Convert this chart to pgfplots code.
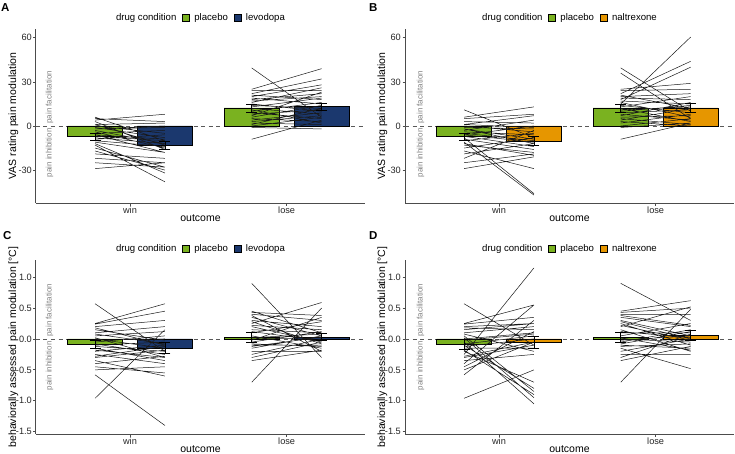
\documentclass[border=0pt]{standalone}
\usepackage{fontspec}
\setmainfont{Liberation Sans}
\usepackage{pgfplots}
\pgfplotsset{compat=1.18}
\definecolor{plgreen}{RGB}{122,178,32}
\definecolor{lvblue}{RGB}{27,56,110}
\definecolor{nxorange}{RGB}{230,150,0}
\newcommand\tickfont{\fontsize{9.2}{11}\selectfont}
\newcommand\labfont{\fontsize{10.5}{12.6}\selectfont}
\newcommand\legfont{\fontsize{9.6}{11.5}\selectfont}
\newcommand\annfont{\fontsize{8}{9.6}\selectfont}
\newcommand\letfont{\bfseries\fontsize{11.5}{13}\selectfont}
\tikzset{annot/.style={rotate=90, font=\annfont, text=black!50, inner sep=0pt}}
\pgfplotsset{
  sqkey/.style={legend image code/.code={\draw[fill=#1,draw=black,line width=0.5pt] (0pt,-3.3pt) rectangle (6.6pt,3.3pt); \path (9.5pt,0pt);}},
  panel/.style={
    scale only axis, width=329pt, height=174pt, anchor=north west,
    xmin=0.4, xmax=2.5,
    axis x line*=bottom, axis y line*=left,
    axis line style={black!70, line width=1pt},
    tick align=outside, major tick length=2.5pt,
    tick style={black!70, line width=0.8pt},
    xtick={1,2}, xticklabels={win,lose},
    /pgf/number format/assume math mode=true,
    ticklabel style={font=\tickfont, text=black!85},
    xticklabel style={inner sep=1.5pt},
    yticklabel style={inner sep=1.5pt},
    xlabel={outcome},
    label style={font=\labfont},
    xlabel style={at={(axis description cs:0.5,-0.086)}, anchor=center},
    ylabel style={at={(axis description cs:-0.0684,0.5)}, anchor=center},
    legend style={at={(axis description cs:0.5,1.0632)}, anchor=center, draw=none, fill=none,
      legend columns=-1, font=\legfont, /tikz/every even column/.append style={column sep=4pt}},
    clip=false,
  },
  vas/.style={ymin=-52.4, ymax=66, ytick={-30,0,30,60}, ylabel={VAS rating pain modulation}},
  beh/.style={ymin=-1.538, ymax=1.278, ytick={-1.5,-1,-0.5,0,0.5,1},
    yticklabel style={/pgf/number format/.cd, fixed, fixed zerofill, precision=1},
    ylabel={behaviorally assessed pain modulation [°C]}},
  zeroline/.style={black!65, line width=0.6pt, dash pattern=on 4pt off 3.5pt, forget plot},
  bars/.style={ybar, bar width=0.351, bar shift=0pt, draw=black, line width=0.6pt, fill=#1, forget plot},
  subj/.style={black!90, line width=0.5pt, unbounded coords=jump, forget plot, mark=none},
  errs/.style={draw=none, mark=none, forget plot, error bars/.cd, y dir=both, y explicit,
    error bar style={draw=black, line width=0.65pt, solid},
    error mark options={draw=black, rotate=90, mark size=5.5pt, line width=0.65pt}},
}
\begin{document}
\begin{tikzpicture}
\path[use as bounding box] (0,0) rectangle (735pt,-453pt);
\node[anchor=north west, inner sep=0pt, font=\letfont] at (1pt,-3pt) {A};
\node[anchor=north west, inner sep=0pt, font=\letfont] at (369pt,-3pt) {B};
\node[anchor=north west, inner sep=0pt, font=\letfont] at (3pt,-231pt) {C};
\node[anchor=north west, inner sep=0pt, font=\letfont] at (369pt,-231pt) {D};

% ---------------- A ----------------
\begin{axis}[panel, vas, at={(36pt,-29pt)}]
\addlegendimage{empty legend}\addlegendentry{drug condition}
\addlegendimage{sqkey=plgreen}\addlegendentry{placebo}
\addlegendimage{sqkey=lvblue}\addlegendentry{levodopa}
\addplot[zeroline] coordinates {(0.4,0) (2.5,0)};
\addplot[bars=plgreen] coordinates {(0.777,-7.3) (1.777,12.3)};
\addplot[bars=lvblue] coordinates {(1.223,-13.2) (2.223,13.2)};
\addplot[subj] coordinates {
(0.777,6) (1.223,-10) (nan,nan) (0.777,4) (1.223,8) (nan,nan) (0.777,5) (1.223,3) (nan,nan)
(0.777,3) (1.223,-16) (nan,nan) (0.777,1) (1.223,2) (nan,nan) (0.777,0) (1.223,-5) (nan,nan)
(0.777,-1) (1.223,-8) (nan,nan) (0.777,-2) (1.223,0) (nan,nan) (0.777,-3) (1.223,-12) (nan,nan)
(0.777,-4) (1.223,-15) (nan,nan) (0.777,-5) (1.223,-3) (nan,nan) (0.777,-6) (1.223,-18) (nan,nan)
(0.777,-7) (1.223,-10) (nan,nan) (0.777,-8) (1.223,-12) (nan,nan) (0.777,-9) (1.223,-6) (nan,nan)
(0.777,-10) (1.223,-14) (nan,nan) (0.777,-11) (1.223,-18) (nan,nan) (0.777,-12) (1.223,-32) (nan,nan)
(0.777,-13) (1.223,-38) (nan,nan) (0.777,-15) (1.223,-28) (nan,nan) (0.777,-17) (1.223,-30) (nan,nan)
(0.777,-19) (1.223,-22) (nan,nan) (0.777,-22) (1.223,-25) (nan,nan) (0.777,-25) (1.223,-28) (nan,nan)
(0.777,-29) (1.223,-25) (nan,nan) (0.777,-2) (1.223,-1) (nan,nan) (0.777,-6) (1.223,-9) (nan,nan)
(0.777,1) (1.223,-13) (nan,nan)
(1.777,39.5) (2.223,6) (nan,nan) (1.777,25) (2.223,39) (nan,nan) (1.777,22) (2.223,32) (nan,nan)
(1.777,20) (2.223,28) (nan,nan) (1.777,24) (2.223,24) (nan,nan) (1.777,18) (2.223,22) (nan,nan)
(1.777,16) (2.223,26) (nan,nan) (1.777,21) (2.223,18) (nan,nan) (1.777,19) (2.223,15) (nan,nan)
(1.777,17) (2.223,20) (nan,nan) (1.777,14) (2.223,12) (nan,nan) (1.777,13) (2.223,19) (nan,nan)
(1.777,12) (2.223,8) (nan,nan) (1.777,10) (2.223,16) (nan,nan) (1.777,9) (2.223,5) (nan,nan)
(1.777,8) (2.223,11) (nan,nan) (1.777,6) (2.223,14) (nan,nan) (1.777,5) (2.223,3) (nan,nan)
(1.777,4) (2.223,9) (nan,nan) (1.777,3) (2.223,7) (nan,nan) (1.777,2) (2.223,1) (nan,nan)
(1.777,0) (2.223,6) (nan,nan) (1.777,-1) (2.223,-2) (nan,nan) (1.777,-9) (2.223,4) (nan,nan)
(1.777,15) (2.223,10) (nan,nan) (1.777,11) (2.223,2) (nan,nan) (1.777,7) (2.223,23) (nan,nan)
(1.777,1) (2.223,12)
};
\addplot[errs] coordinates {(0.777,-7.3) +- (0,2.5) (1.223,-13.2) +- (0,2.7) (1.777,12.3) +- (0,2.7) (2.223,13.2) +- (0,2.5)};
\node[annot, anchor=west] at (axis cs:0.487,1.5) {pain facilitation};
\node[annot, anchor=east] at (axis cs:0.487,-1.5) {pain inhibition};
\end{axis}

% ---------------- B ----------------
\begin{axis}[panel, vas, at={(405pt,-29pt)}]
\addlegendimage{empty legend}\addlegendentry{drug condition}
\addlegendimage{sqkey=plgreen}\addlegendentry{placebo}
\addlegendimage{sqkey=nxorange}\addlegendentry{naltrexone}
\addplot[zeroline] coordinates {(0.4,0) (2.5,0)};
\addplot[bars=plgreen] coordinates {(0.777,-7.3) (1.777,12.3)};
\addplot[bars=nxorange] coordinates {(1.223,-10.2) (2.223,12.3)};
\addplot[subj] coordinates {
(0.777,11) (1.223,-8) (nan,nan) (0.777,6) (1.223,13) (nan,nan) (0.777,5) (1.223,8) (nan,nan)
(0.777,3) (1.223,2) (nan,nan) (0.777,1) (1.223,7) (nan,nan) (0.777,0) (1.223,-4) (nan,nan)
(0.777,-1) (1.223,-2) (nan,nan) (0.777,-2) (1.223,-12) (nan,nan) (0.777,-3) (1.223,4) (nan,nan)
(0.777,-4) (1.223,-6) (nan,nan) (0.777,-5) (1.223,-10) (nan,nan) (0.777,-6) (1.223,0) (nan,nan)
(0.777,-7) (1.223,-14) (nan,nan) (0.777,-8) (1.223,-46) (nan,nan) (0.777,-9) (1.223,-16) (nan,nan)
(0.777,-10) (1.223,-5) (nan,nan) (0.777,-11) (1.223,-47) (nan,nan) (0.777,-12) (1.223,-20) (nan,nan)
(0.777,-13) (1.223,-18) (nan,nan) (0.777,-15) (1.223,-8) (nan,nan) (0.777,-17) (1.223,-29) (nan,nan)
(0.777,-19) (1.223,-12) (nan,nan) (0.777,-22) (1.223,-3) (nan,nan) (0.777,-25) (1.223,-19) (nan,nan)
(0.777,-29) (1.223,-21) (nan,nan) (0.777,-2) (1.223,-9) (nan,nan) (0.777,-6) (1.223,-11) (nan,nan)
(0.777,1) (1.223,-1) (nan,nan)
(1.777,39.5) (2.223,10) (nan,nan) (1.777,36) (2.223,5) (nan,nan) (1.777,15) (2.223,60.5) (nan,nan)
(1.777,22) (2.223,44) (nan,nan) (1.777,18) (2.223,40) (nan,nan) (1.777,25) (2.223,29) (nan,nan)
(1.777,24) (2.223,25) (nan,nan) (1.777,20) (2.223,22) (nan,nan) (1.777,21) (2.223,12) (nan,nan)
(1.777,19) (2.223,18) (nan,nan) (1.777,17) (2.223,15) (nan,nan) (1.777,16) (2.223,6) (nan,nan)
(1.777,14) (2.223,9) (nan,nan) (1.777,13) (2.223,20) (nan,nan) (1.777,12) (2.223,3) (nan,nan)
(1.777,10) (2.223,14) (nan,nan) (1.777,9) (2.223,11) (nan,nan) (1.777,8) (2.223,4) (nan,nan)
(1.777,6) (2.223,7) (nan,nan) (1.777,5) (2.223,1) (nan,nan) (1.777,4) (2.223,12) (nan,nan)
(1.777,3) (2.223,0) (nan,nan) (1.777,2) (2.223,8) (nan,nan) (1.777,0) (2.223,5) (nan,nan)
(1.777,-1) (2.223,2) (nan,nan) (1.777,-9) (2.223,2) (nan,nan) (1.777,11) (2.223,13) (nan,nan)
(1.777,7) (2.223,16)
};
\addplot[errs] coordinates {(0.777,-7.3) +- (0,2.5) (1.223,-10.2) +- (0,3.0) (1.777,12.3) +- (0,2.7) (2.223,12.3) +- (0,2.8)};
\node[annot, anchor=west] at (axis cs:0.5,1.5) {pain facilitation};
\node[annot, anchor=east] at (axis cs:0.5,-1.5) {pain inhibition};
\end{axis}

% ---------------- C ----------------
\begin{axis}[panel, beh, at={(36pt,-260pt)}]
\addlegendimage{empty legend}\addlegendentry{drug condition}
\addlegendimage{sqkey=plgreen}\addlegendentry{placebo}
\addlegendimage{sqkey=lvblue}\addlegendentry{levodopa}
\addplot[zeroline] coordinates {(0.4,0) (2.5,0)};
\addplot[bars=plgreen] coordinates {(0.777,-0.087) (1.777,0.03)};
\addplot[bars=lvblue] coordinates {(1.223,-0.145) (2.223,0.03)};
\addplot[subj] coordinates {
(0.777,0.57) (1.223,-0.2) (nan,nan) (0.777,0.25) (1.223,0.57) (nan,nan) (0.777,0.24) (1.223,0.45) (nan,nan)
(0.777,0.2) (1.223,0.3) (nan,nan) (0.777,0.18) (1.223,-0.1) (nan,nan) (0.777,0.1) (1.223,0.2) (nan,nan)
(0.777,0.05) (1.223,0.12) (nan,nan) (0.777,0.02) (1.223,-0.3) (nan,nan) (0.777,0.0) (1.223,-0.15) (nan,nan)
(0.777,-0.05) (1.223,0.05) (nan,nan) (0.777,-0.08) (1.223,-0.25) (nan,nan) (0.777,-0.1) (1.223,-0.05) (nan,nan)
(0.777,-0.12) (1.223,-0.2) (nan,nan) (0.777,-0.15) (1.223,-0.35) (nan,nan) (0.777,-0.2) (1.223,-0.1) (nan,nan)
(0.777,-0.25) (1.223,-0.4) (nan,nan) (0.777,-0.3) (1.223,-0.18) (nan,nan) (0.777,-0.35) (1.223,-0.6) (nan,nan)
(0.777,-0.4) (1.223,-0.28) (nan,nan) (0.777,-0.45) (1.223,-0.55) (nan,nan) (0.777,-0.5) (1.223,-0.45) (nan,nan)
(0.777,-0.58) (1.223,-1.4) (nan,nan) (0.777,-0.96) (1.223,0.15) (nan,nan) (0.777,0.08) (1.223,-0.08) (nan,nan)
(0.777,-0.02) (1.223,0.0) (nan,nan) (0.777,-0.18) (1.223,-0.3) (nan,nan) (0.777,0.15) (1.223,-0.02) (nan,nan)
(0.777,-0.28) (1.223,-0.12) (nan,nan)
(1.777,0.9) (2.223,-0.3) (nan,nan) (1.777,0.45) (2.223,0.1) (nan,nan) (1.777,0.43) (2.223,0.38) (nan,nan)
(1.777,0.4) (2.223,0.3) (nan,nan) (1.777,0.35) (2.223,0.05) (nan,nan) (1.777,0.3) (2.223,0.2) (nan,nan)
(1.777,0.25) (2.223,0.59) (nan,nan) (1.777,0.2) (2.223,-0.05) (nan,nan) (1.777,0.15) (2.223,0.1) (nan,nan)
(1.777,0.1) (2.223,0.28) (nan,nan) (1.777,0.05) (2.223,-0.15) (nan,nan) (1.777,0.0) (2.223,0.02) (nan,nan)
(1.777,-0.05) (2.223,0.12) (nan,nan) (1.777,-0.1) (2.223,-0.1) (nan,nan) (1.777,-0.15) (2.223,0.05) (nan,nan)
(1.777,-0.2) (2.223,-0.2) (nan,nan) (1.777,-0.25) (2.223,0.0) (nan,nan) (1.777,-0.3) (2.223,-0.05) (nan,nan)
(1.777,-0.35) (2.223,-0.18) (nan,nan) (1.777,-0.7) (2.223,0.5) (nan,nan) (1.777,0.12) (2.223,-0.03) (nan,nan)
(1.777,0.02) (2.223,0.08) (nan,nan) (1.777,-0.08) (2.223,-0.12) (nan,nan) (1.777,0.22) (2.223,0.15) (nan,nan)
(1.777,0.38) (2.223,-0.2) (nan,nan) (1.777,-0.12) (2.223,0.03) (nan,nan) (1.777,0.28) (2.223,-0.08) (nan,nan)
(1.777,-0.02) (2.223,0.35)
};
\addplot[errs] coordinates {(0.777,-0.087) +- (0,0.072) (1.223,-0.14) +- (0,0.085) (1.777,0.03) +- (0,0.085) (2.223,0.03) +- (0,0.055)};
\node[annot, anchor=west] at (axis cs:0.487,0.035) {pain facilitation};
\node[annot, anchor=east] at (axis cs:0.487,-0.035) {pain inhibition};
\end{axis}

% ---------------- D ----------------
\begin{axis}[panel, beh, at={(405pt,-260pt)}]
\addlegendimage{empty legend}\addlegendentry{drug condition}
\addlegendimage{sqkey=plgreen}\addlegendentry{placebo}
\addlegendimage{sqkey=nxorange}\addlegendentry{naltrexone}
\addplot[zeroline] coordinates {(0.4,0) (2.5,0)};
\addplot[bars=plgreen] coordinates {(0.777,-0.087) (1.777,0.03)};
\addplot[bars=nxorange] coordinates {(1.223,-0.05) (2.223,0.06)};
\addplot[subj] coordinates {
(0.777,0.57) (1.223,-0.1) (nan,nan) (0.777,0.25) (1.223,0.55) (nan,nan) (0.777,0.24) (1.223,0.35) (nan,nan)
(0.777,0.2) (1.223,0.25) (nan,nan) (0.777,0.18) (1.223,0.15) (nan,nan) (0.777,0.1) (1.223,0.2) (nan,nan)
(0.777,0.05) (1.223,-0.85) (nan,nan) (0.777,0.02) (1.223,-0.95) (nan,nan) (0.777,0.0) (1.223,0.1) (nan,nan)
(0.777,-0.05) (1.223,-1.05) (nan,nan) (0.777,-0.08) (1.223,0.05) (nan,nan) (0.777,-0.1) (1.223,-0.8) (nan,nan)
(0.777,-0.12) (1.223,0.0) (nan,nan) (0.777,-0.15) (1.223,-0.15) (nan,nan) (0.777,-0.2) (1.223,-0.7) (nan,nan)
(0.777,-0.25) (1.223,1.15) (nan,nan) (0.777,-0.3) (1.223,-0.1) (nan,nan) (0.777,-0.35) (1.223,-0.25) (nan,nan)
(0.777,-0.4) (1.223,0.55) (nan,nan) (0.777,-0.45) (1.223,0.12) (nan,nan) (0.777,-0.5) (1.223,-0.05) (nan,nan)
(0.777,-0.58) (1.223,0.3) (nan,nan) (0.777,-0.96) (1.223,-0.5) (nan,nan) (0.777,0.08) (1.223,-0.2) (nan,nan)
(0.777,-0.02) (1.223,0.08) (nan,nan) (0.777,-0.18) (1.223,-0.9) (nan,nan) (0.777,0.15) (1.223,0.25) (nan,nan)
(0.777,-0.28) (1.223,-0.05) (nan,nan)
(1.777,0.9) (2.223,0.3) (nan,nan) (1.777,0.45) (2.223,0.62) (nan,nan) (1.777,0.43) (2.223,0.5) (nan,nan)
(1.777,0.4) (2.223,0.4) (nan,nan) (1.777,0.35) (2.223,0.2) (nan,nan) (1.777,0.3) (2.223,0.05) (nan,nan)
(1.777,0.25) (2.223,-0.1) (nan,nan) (1.777,0.2) (2.223,0.52) (nan,nan) (1.777,0.15) (2.223,-0.2) (nan,nan)
(1.777,0.1) (2.223,0.1) (nan,nan) (1.777,0.05) (2.223,0.25) (nan,nan) (1.777,0.0) (2.223,-0.05) (nan,nan)
(1.777,-0.05) (2.223,0.15) (nan,nan) (1.777,-0.1) (2.223,-0.15) (nan,nan) (1.777,-0.15) (2.223,-0.48) (nan,nan)
(1.777,-0.2) (2.223,0.0) (nan,nan) (1.777,-0.25) (2.223,-0.25) (nan,nan) (1.777,-0.3) (2.223,0.08) (nan,nan)
(1.777,-0.35) (2.223,-0.12) (nan,nan) (1.777,-0.7) (2.223,0.48) (nan,nan) (1.777,0.12) (2.223,0.02) (nan,nan)
(1.777,0.02) (2.223,-0.18) (nan,nan) (1.777,-0.08) (2.223,0.12) (nan,nan) (1.777,0.22) (2.223,-0.02) (nan,nan)
(1.777,0.38) (2.223,0.22) (nan,nan) (1.777,-0.12) (2.223,-0.08) (nan,nan) (1.777,0.28) (2.223,0.0) (nan,nan)
(1.777,-0.02) (2.223,0.05)
};
\addplot[errs] coordinates {(0.777,-0.087) +- (0,0.08) (1.223,-0.05) +- (0,0.094) (1.777,0.03) +- (0,0.085) (2.223,0.055) +- (0,0.08)};
\node[annot, anchor=west] at (axis cs:0.5,0.035) {pain facilitation};
\node[annot, anchor=east] at (axis cs:0.5,-0.035) {pain inhibition};
\end{axis}
\end{tikzpicture}
\end{document}
